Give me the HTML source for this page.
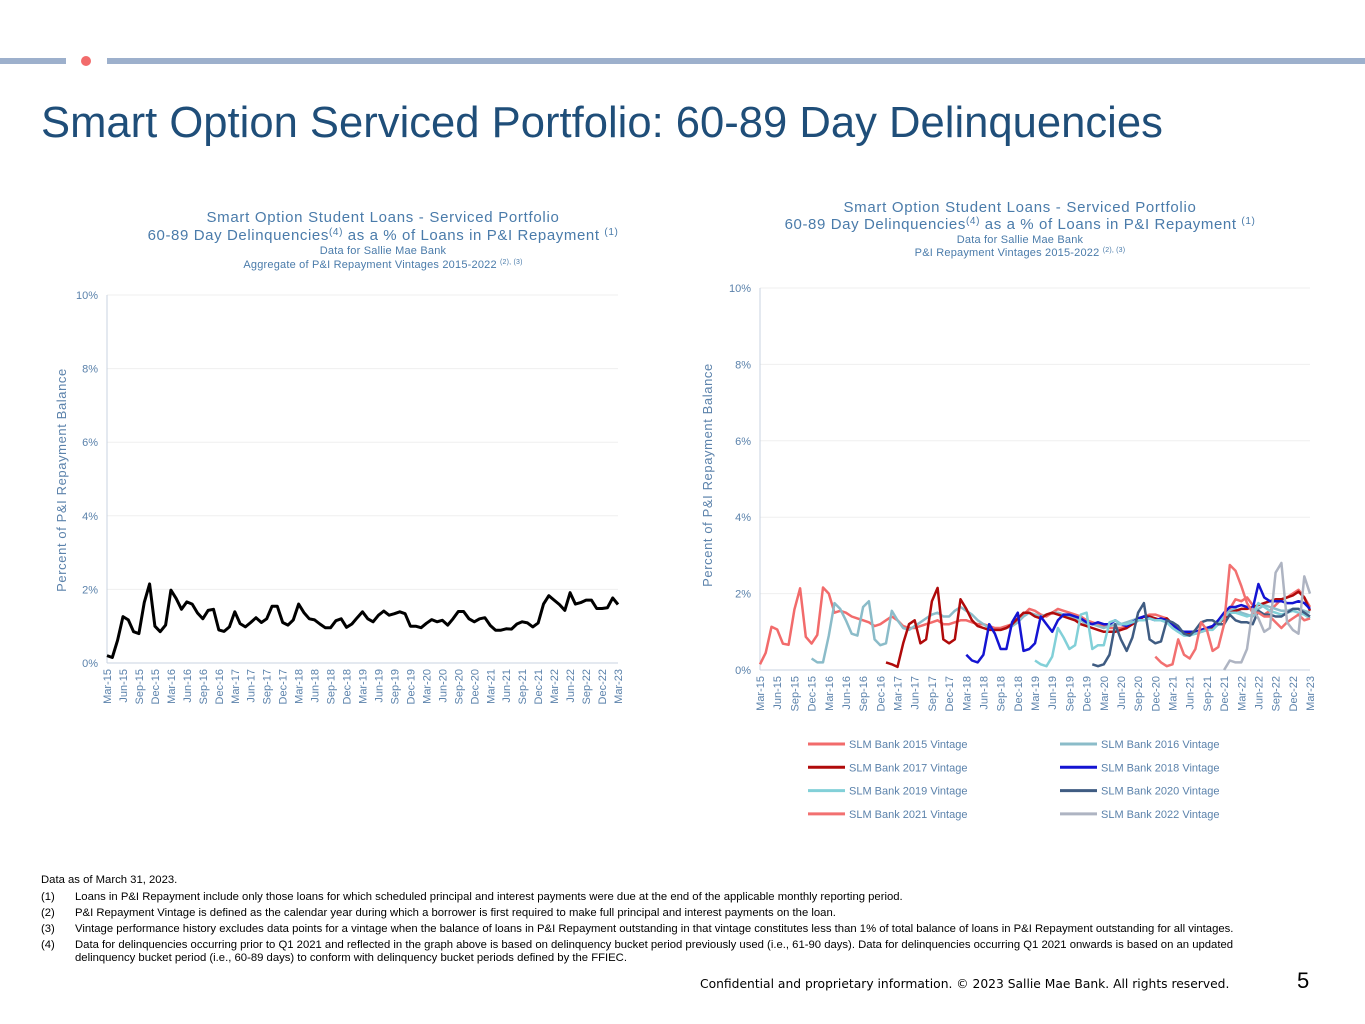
<!DOCTYPE html>
<html><head><meta charset="utf-8">
<style>
body{margin:0;width:1365px;height:1024px;background:#fff;font-family:"Liberation Sans",sans-serif;position:relative;overflow:hidden}
.abs{position:absolute}
.fn{position:absolute;font-size:11.3px;color:#000;left:41px}
.fn span{position:absolute;left:34px;white-space:nowrap}
</style></head><body>
<div class="abs" style="left:0;top:58px;width:66px;height:6px;background:#9DB0CC"></div>
<div class="abs" style="left:81px;top:56px;width:10px;height:10px;border-radius:50%;background:#F26B6B"></div>
<div class="abs" style="left:107px;top:58px;width:1258px;height:6px;background:#9DB0CC"></div>
<div class="abs" style="left:41px;top:99px;font-size:43.6px;color:#1F4E79;white-space:nowrap">Smart Option Serviced Portfolio: 60-89 Day Delinquencies</div>

<svg class="abs" style="left:0;top:0" width="1365" height="1024">
<g id="left"></g>
<g id="right"></g>
</svg>

<div class="fn" style="top:874px">Data as of  March 31, 2023.</div>
<div class="fn" style="top:891px">(1)<span>Loans in P&amp;I Repayment include only those loans for which scheduled principal and interest payments were due at the end of the applicable monthly reporting period.</span></div>
<div class="fn" style="top:907px">(2)<span>P&amp;I Repayment Vintage is defined as the calendar year during which a borrower is first required to make full principal and interest payments on the loan.</span></div>
<div class="fn" style="top:923px">(3)<span>Vintage performance history excludes data points for a vintage when the balance of loans in P&amp;I Repayment outstanding in that vintage constitutes less than 1% of total balance of loans in P&amp;I Repayment outstanding for all vintages.</span></div>
<div class="fn" style="top:939px;line-height:13px">(4)<span>Data for delinquencies occurring prior to Q1 2021 and reflected in the graph above is based on delinquency bucket period previously used (i.e., 61-90 days).  Data for delinquencies occurring Q1 2021 onwards is based on an updated<br>delinquency bucket period (i.e., 60-89 days) to conform with delinquency bucket periods defined by the FFIEC.</span></div>
<div class="abs" style="left:700px;top:977px;font-size:12.3px;font-family:'DejaVu Sans',sans-serif;color:#000;white-space:nowrap">Confidential and proprietary information. © 2023 Sallie Mae Bank. All rights reserved.</div>
<div class="abs" style="left:1297px;top:968px;font-size:22px;color:#000">5</div>

<script>
const tickLabels=["Mar-15","Jun-15","Sep-15","Dec-15","Mar-16","Jun-16","Sep-16","Dec-16","Mar-17","Jun-17","Sep-17","Dec-17","Mar-18","Jun-18","Sep-18","Dec-18","Mar-19","Jun-19","Sep-19","Dec-19","Mar-20","Jun-20","Sep-20","Dec-20","Mar-21","Jun-21","Sep-21","Dec-21","Mar-22","Jun-22","Sep-22","Dec-22","Mar-23"];
const yTicks=[0,2,4,6,8,10];
const aggregate=[0.2,0.15,0.62,1.26,1.17,0.85,0.8,1.65,2.15,1.0,0.85,1.03,1.98,1.75,1.46,1.66,1.6,1.36,1.2,1.43,1.46,0.9,0.86,0.98,1.39,1.07,0.98,1.1,1.23,1.1,1.2,1.54,1.54,1.1,1.03,1.17,1.6,1.37,1.2,1.17,1.06,0.96,0.96,1.15,1.2,0.97,1.06,1.23,1.39,1.2,1.12,1.3,1.41,1.3,1.34,1.39,1.34,1.0,1.0,0.96,1.08,1.18,1.12,1.16,1.03,1.2,1.4,1.4,1.2,1.12,1.2,1.23,1.02,0.89,0.89,0.93,0.92,1.06,1.12,1.09,0.98,1.09,1.6,1.83,1.71,1.59,1.43,1.91,1.6,1.64,1.71,1.71,1.48,1.48,1.5,1.77,1.59];
const v2015=[0.15,0.45,1.13,1.06,0.69,0.66,1.58,2.14,0.87,0.69,0.92,2.16,2.0,1.5,1.55,1.5,1.4,1.35,1.3,1.25,1.15,1.2,1.3,1.4,1.3,1.15,1.1,1.1,1.15,1.2,1.25,1.3,1.2,1.2,1.25,1.3,1.3,1.25,1.2,1.2,1.15,1.1,1.1,1.15,1.2,1.3,1.45,1.6,1.55,1.45,1.4,1.5,1.6,1.55,1.5,1.45,1.4,1.3,1.25,1.2,1.15,1.1,1.1,1.1,1.15,1.2,1.3,1.4,1.45,1.45,1.4,1.35,1.2,1.05,0.95,0.95,1.0,1.05,1.1,1.15,1.25,1.4,1.6,1.85,1.8,1.9,1.7,1.5,1.45,1.55,1.7,1.85,1.9,2.0,2.1,1.9,1.65];
const v2016=[null,null,null,null,null,null,null,null,null,0.3,0.2,0.2,0.9,1.75,1.6,1.3,0.95,0.9,1.65,1.8,0.8,0.65,0.7,1.55,1.3,1.1,1.05,1.15,1.25,1.35,1.45,1.5,1.4,1.4,1.55,1.65,1.55,1.45,1.3,1.2,1.1,1.05,1.05,1.1,1.15,1.25,1.4,1.5,1.45,1.4,1.45,1.5,1.5,1.45,1.4,1.35,1.3,1.2,1.2,1.15,1.1,1.15,1.2,1.2,1.25,1.3,1.35,1.4,1.4,1.35,1.3,1.25,1.1,1.0,0.95,0.95,1.0,1.05,1.1,1.15,1.3,1.5,1.55,1.6,1.5,1.45,1.4,1.6,1.7,1.65,1.6,1.55,1.55,1.6,1.6,1.55,1.5];
const v2017=[null,null,null,null,null,null,null,null,null,null,null,null,null,null,null,null,null,null,null,null,null,null,0.2,0.15,0.08,0.7,1.2,1.3,0.7,0.8,1.8,2.15,0.8,0.7,0.8,1.85,1.6,1.3,1.15,1.1,1.05,1.05,1.05,1.1,1.2,1.35,1.5,1.5,1.4,1.35,1.45,1.5,1.45,1.4,1.35,1.3,1.2,1.15,1.1,1.05,1.0,1.0,1.0,1.05,1.1,1.2,1.3,1.4,1.4,1.35,1.3,1.35,1.2,1.05,0.95,0.95,0.95,1.0,1.05,1.1,1.2,1.35,1.5,1.55,1.6,1.6,1.65,1.7,1.75,1.8,1.85,1.85,1.9,1.95,2.05,1.9,1.55];
const v2018=[null,null,null,null,null,null,null,null,null,null,null,null,null,null,null,null,null,null,null,null,null,null,null,null,null,null,null,null,null,null,null,null,null,null,null,null,0.4,0.25,0.2,0.4,1.2,0.95,0.55,0.55,1.25,1.5,0.5,0.55,0.7,1.4,1.2,1.0,1.3,1.45,1.45,1.4,1.35,1.25,1.2,1.25,1.2,1.2,1.3,1.2,1.15,1.25,1.35,1.4,1.35,1.3,1.35,1.3,1.2,1.05,1.0,1.0,1.0,1.05,1.1,1.15,1.3,1.5,1.65,1.65,1.7,1.65,1.6,2.25,1.9,1.8,1.8,1.8,1.75,1.75,1.8,1.75,1.6];
const v2019=[null,null,null,null,null,null,null,null,null,null,null,null,null,null,null,null,null,null,null,null,null,null,null,null,null,null,null,null,null,null,null,null,null,null,null,null,null,null,null,null,null,null,null,null,null,null,null,null,0.25,0.15,0.1,0.35,1.1,0.85,0.55,0.65,1.45,1.5,0.55,0.65,0.65,1.25,1.3,1.2,1.2,1.25,1.3,1.3,1.35,1.3,1.3,1.25,1.1,1.0,0.9,0.9,0.95,1.0,1.05,1.05,1.2,1.4,1.5,1.5,1.45,1.4,1.45,1.75,1.65,1.55,1.5,1.45,1.5,1.55,1.5,1.45,1.35];
const v2020=[null,null,null,null,null,null,null,null,null,null,null,null,null,null,null,null,null,null,null,null,null,null,null,null,null,null,null,null,null,null,null,null,null,null,null,null,null,null,null,null,null,null,null,null,null,null,null,null,null,null,null,null,null,null,null,null,null,null,0.15,0.1,0.15,0.4,1.2,0.8,0.5,0.85,1.5,1.75,0.8,0.7,0.75,1.3,1.25,1.15,0.95,0.9,1.05,1.25,1.3,1.3,1.2,1.2,1.45,1.3,1.25,1.25,1.2,1.55,1.45,1.45,1.4,1.4,1.5,1.6,1.6,1.5,1.4];
const v2021=[null,null,null,null,null,null,null,null,null,null,null,null,null,null,null,null,null,null,null,null,null,null,null,null,null,null,null,null,null,null,null,null,null,null,null,null,null,null,null,null,null,null,null,null,null,null,null,null,null,null,null,null,null,null,null,null,null,null,null,null,null,null,null,null,null,null,null,null,null,0.35,0.2,0.1,0.15,0.8,0.4,0.3,0.55,1.25,1.05,0.5,0.6,1.2,2.75,2.6,2.2,1.75,1.5,1.5,1.4,1.4,1.25,1.1,1.25,1.35,1.45,1.3,1.35];
const v2022=[null,null,null,null,null,null,null,null,null,null,null,null,null,null,null,null,null,null,null,null,null,null,null,null,null,null,null,null,null,null,null,null,null,null,null,null,null,null,null,null,null,null,null,null,null,null,null,null,null,null,null,null,null,null,null,null,null,null,null,null,null,null,null,null,null,null,null,null,null,null,null,null,null,null,null,null,null,null,null,null,null,0.0,0.25,0.2,0.2,0.55,1.6,1.35,1.0,1.1,2.55,2.8,1.25,1.05,0.95,2.45,2.0];
const seriesNames=["SLM Bank 2015 Vintage","SLM Bank 2016 Vintage","SLM Bank 2017 Vintage","SLM Bank 2018 Vintage","SLM Bank 2019 Vintage","SLM Bank 2020 Vintage","SLM Bank 2021 Vintage","SLM Bank 2022 Vintage"];
const seriesColors=["#F26B6B","#8BBCC9","#B00A0A","#1414D2","#82D0D8","#3F5C82","#F27070","#AEB4C2"];
const seriesData=[v2015,v2016,v2017,v2018,v2019,v2020,v2021,v2022];

const NS="http://www.w3.org/2000/svg";
function mk(parent,tag,attrs){const e=document.createElementNS(NS,tag);for(const k in attrs)e.setAttribute(k,attrs[k]);parent.appendChild(e);return e;}
const TC="#5B82AB";

function axes(g,x0,x1,y0,y1,n){
  const xs=i=>x0+(x1-x0)*i/(n-1);
  const ys=v=>y0-(y0-y1)*v/10;
  yTicks.forEach(t=>{
    if(t>0){const gl=mk(g,'line',{x1:x0,x2:x1,y1:ys(t),y2:ys(t),stroke:'#EFEFEF','stroke-width':1});
    
    }
    const tx=mk(g,'text',{x:x0-9,y:ys(t)+4,'text-anchor':'end','font-size':11,fill:TC});
    tx.textContent=t+'%';
    
    
  });
  const ax=mk(g,'line',{x1:x0,x2:x0,y1:y1,y2:y0,stroke:'#C8D3E0','stroke-width':1});
  
  
  const bx=mk(g,'line',{x1:x0,x2:x1,y1:y0,y2:y0,stroke:'#C8D3E0','stroke-width':1});
  
  
  tickLabels.forEach((l,k)=>{
    const x=xs(k*3)+4,y=y0+6;
    const tx=mk(g,'text',{x:x,y:y,'text-anchor':'end','font-size':11,fill:TC,transform:`rotate(-90 ${x} ${y})`});
    tx.textContent=l;
    
    
  });
  return [xs,ys];
}
function line(g,data,xs,ys,color,w,name){
  let d='',pen=false;
  data.forEach((v,i)=>{if(v===null){pen=false;return;}d+=(pen?'L':'M')+xs(i).toFixed(1)+' '+ys(v).toFixed(1);pen=true;});
  const p=mk(g,'path',{d:d,fill:'none',stroke:color,'stroke-width':w,'stroke-linejoin':'round'});
  
  
}
function titles(g,cx,ys_,lines){
  lines.forEach((l,i)=>{
    const t=mk(g,'text',{x:cx,y:ys_[i],'text-anchor':'middle','font-size':l[1],fill:'#4A7BAA','letter-spacing':l[2]||0});
    t.innerHTML=l[0];
    
    
  });
}
function ytitle(g,x,y){
  const t=mk(g,'text',{x:x,y:y,'text-anchor':'middle','font-size':13,fill:TC,transform:`rotate(-90 ${x} ${y})`,'letter-spacing':'0.6'});
  t.textContent='Percent of P&I Repayment  Balance';
  
  
}
// left
const L=document.getElementById('left');
titles(L,383,[222,240,254,268],[["Smart Option Student Loans - Serviced Portfolio",15,0.7],["60-89 Day Delinquencies<tspan font-size='10' dy='-5'>(4)</tspan><tspan dy='5'> as a % of Loans in P&amp;I Repayment </tspan><tspan font-size='10' dy='-5'>(1)</tspan>",15,0.6],["Data for Sallie Mae Bank",11,0.2],["Aggregate of P&amp;I Repayment Vintages 2015-2022 <tspan font-size='7' dy='-4'>(2), (3)</tspan>",11,0.2]]);
ytitle(L,66,480);
const [lx,ly]=axes(L,107,618,663,295,97);
line(L,aggregate,lx,ly,'#000',3,'aggregate-line');
// right
const R=document.getElementById('right');
titles(R,1020,[212,229,243,256],[["Smart Option Student Loans - Serviced Portfolio",15,0.7],["60-89  Day Delinquencies<tspan font-size='10' dy='-5'>(4)</tspan><tspan dy='5'> as a % of Loans in P&amp;I Repayment </tspan><tspan font-size='10' dy='-5'>(1)</tspan>",15,0.6],["Data for Sallie Mae Bank",11,0.2],["P&amp;I Repayment Vintages 2015-2022 <tspan font-size='7' dy='-4'>(2), (3)</tspan>",11,0.2]]);
ytitle(R,712,475);
const [rx,ry]=axes(R,760,1310,670,288,97);
seriesData.forEach((s,k)=>line(R,s,rx,ry,seriesColors[k],2.5,'series-'+(2015+k)));
seriesNames.forEach((n,k)=>{
  const col=k%2,row=Math.floor(k/2);
  const x=col?1060:808,y=744+row*23.3;
  const sw=mk(R,'line',{x1:x,x2:x+37,y1:y,y2:y,stroke:seriesColors[k],'stroke-width':3});
  
  
  const t=mk(R,'text',{x:x+41,y:y+4,'font-size':11,fill:TC});
  t.textContent=n;
  
  
});
</script>
</body></html>
